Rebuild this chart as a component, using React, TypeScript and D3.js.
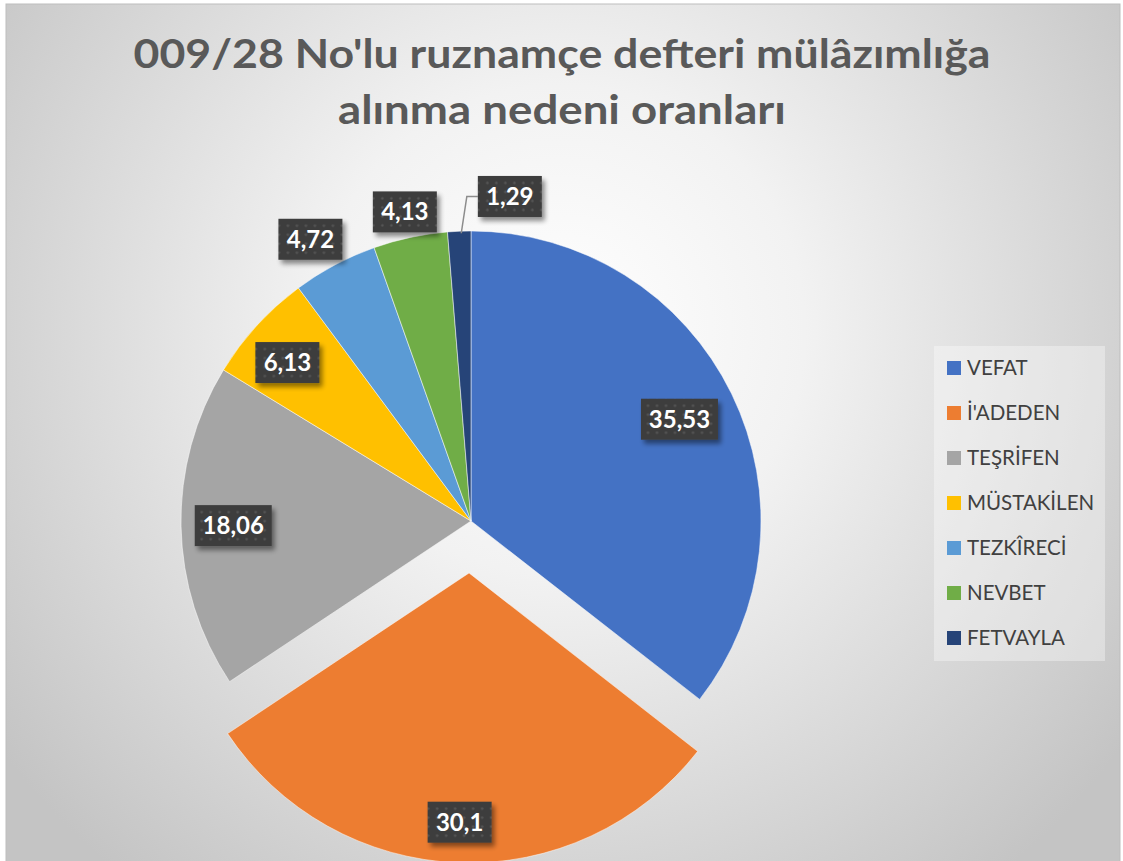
import React from "react";
import * as d3 from "d3";

const categories = ["VEFAT", "İ'ADEDEN", "TEŞRİFEN", "MÜSTAKİLEN", "TEZKÎRECİ", "NEVBET", "FETVAYLA"];
const values = [35.53, 30.1, 18.06, 6.13, 4.72, 4.13, 1.29];
const valueLabels = ["35,53", "30,1", "18,06", "6,13", "4,72", "4,13", "1,29"];
const colors = ["#4472C4", "#ED7D31", "#A5A5A5", "#FFC000", "#5B9BD5", "#70AD47", "#264478"];
const titleLines = ["009/28 No'lu ruznamçe defteri mülâzımlığa", "alınma nedeni oranları"];

// layout settings
const W = 1123, H = 861;
const cx = 471, cy = 521, R = 290;
const explodeIdx = 1;
const explodeDist = 52;
const labelRadiusFactor = [0.8, 0.86, 0.82, 0.83, 1.12, 1.09, 1.12];
const labelShiftX = [0, 0, 0, -6, -8, 0, 52];
const labelShiftY = [0, 0, 0, 4, 5, 0, 0];

export default function App() {
  const pie = d3.pie<number>().sort(null).value((d) => d)(values);
  const arc = d3.arc<d3.PieArcDatum<number>>().innerRadius(0).outerRadius(R);

  const slices = pie.map((p, i) => {
    const mid = (p.startAngle + p.endAngle) / 2;
    const off = i === explodeIdx ? explodeDist : 0;
    const ox = Math.sin(mid) * off;
    const oy = -Math.cos(mid) * off;
    const lr = R * labelRadiusFactor[i];
    const lx = ox + Math.sin(mid) * lr + labelShiftX[i];
    const ly = oy - Math.cos(mid) * lr + labelShiftY[i];
    const edgeX = Math.sin(mid) * R;
    const edgeY = -Math.cos(mid) * R;
    return { p, i, ox, oy, lx, ly, edgeX, edgeY, mid };
  });

  const legendX = 934, legendY = 346, legendW = 171, legendH = 315;
  const legendY0 = 368, legendStep = 45;

  return (
    <svg width={W} height={H} style={{ position: "absolute", left: 0, top: 0 }} fontFamily="Lato, 'Open Sans', sans-serif">
      <defs>
        <radialGradient id="bg" cx="560" cy="330" r="700" gradientUnits="userSpaceOnUse">
          <stop offset="0" stopColor="#ffffff" />
          <stop offset="0.35" stopColor="#f2f2f2" />
          <stop offset="1" stopColor="#c4c4c4" />
        </radialGradient>
        <pattern id="dots" width="9" height="9" patternUnits="userSpaceOnUse">
          <rect width="9" height="9" fill="#3d3d3d" />
          <circle cx="4.5" cy="4.5" r="1.2" fill="#575757" />
        </pattern>
        <filter id="shadow" x="-20%" y="-20%" width="150%" height="160%">
          <feGaussianBlur in="SourceAlpha" stdDeviation="2.5" />
          <feOffset dx="3" dy="4" result="b" />
          <feComponentTransfer>
            <feFuncA type="linear" slope="0.45" />
          </feComponentTransfer>
          <feMerge>
            <feMergeNode />
            <feMergeNode in="SourceGraphic" />
          </feMerge>
        </filter>
      </defs>
      <rect x={0} y={0} width={W} height={H} fill="#ffffff" />
      <rect x={6} y={4} width={1114} height={H} fill="url(#bg)" stroke="#bdbdbd" strokeWidth={1} />

      {titleLines.map((t, i) => (
        <text key={i} x={562} y={68 + i * 56} textAnchor="middle" fontSize={41} fontWeight="bold" fill="#595959"
          textLength={i === 0 ? 857 : 448} lengthAdjust="spacingAndGlyphs">
          {t}
        </text>
      ))}

      <g transform={`translate(${cx},${cy})`}>
        {slices.map((s) => (
          <path key={s.i} d={arc(s.p) || ""} transform={`translate(${s.ox},${s.oy})`} fill={colors[s.i]} stroke="#ffffff" strokeWidth={0.5} />
        ))}
        {slices.filter((s) => labelShiftX[s.i] > 20).map((s) => (
          <polyline key={"l" + s.i} fill="none" stroke="#8c8c8c" strokeWidth={1.5}
            points={`${s.edgeX + 2},${s.edgeY + 2} ${s.lx - 43},${s.ly} ${s.lx - 32},${s.ly}`} />
        ))}
        {slices.map((s) => {
          const w = valueLabels[s.i].length <= 4 ? 64 : 77;
          const h = 41;
          return (
            <g key={"t" + s.i} transform={`translate(${s.lx},${s.ly})`}>
              <rect x={-w / 2} y={-h / 2} width={w} height={h} fill="url(#dots)" filter="url(#shadow)" />
              <text x={0} y={8.5} textAnchor="middle" fontSize={24} fontWeight="bold" fill="#ffffff">
                {valueLabels[s.i]}
              </text>
            </g>
          );
        })}
      </g>

      <rect x={legendX} y={legendY} width={legendW} height={legendH} fill="#ffffff" fillOpacity={0.35} />
      {categories.map((c, i) => (
        <g key={c} transform={`translate(947,${legendY0 + i * legendStep})`}>
          <rect x={0} y={-7} width={14} height={14} fill={colors[i]} />
          <text x={20} y={7} fontSize={20.5} fill="#404040">{c}</text>
        </g>
      ))}
    </svg>
  );
}
